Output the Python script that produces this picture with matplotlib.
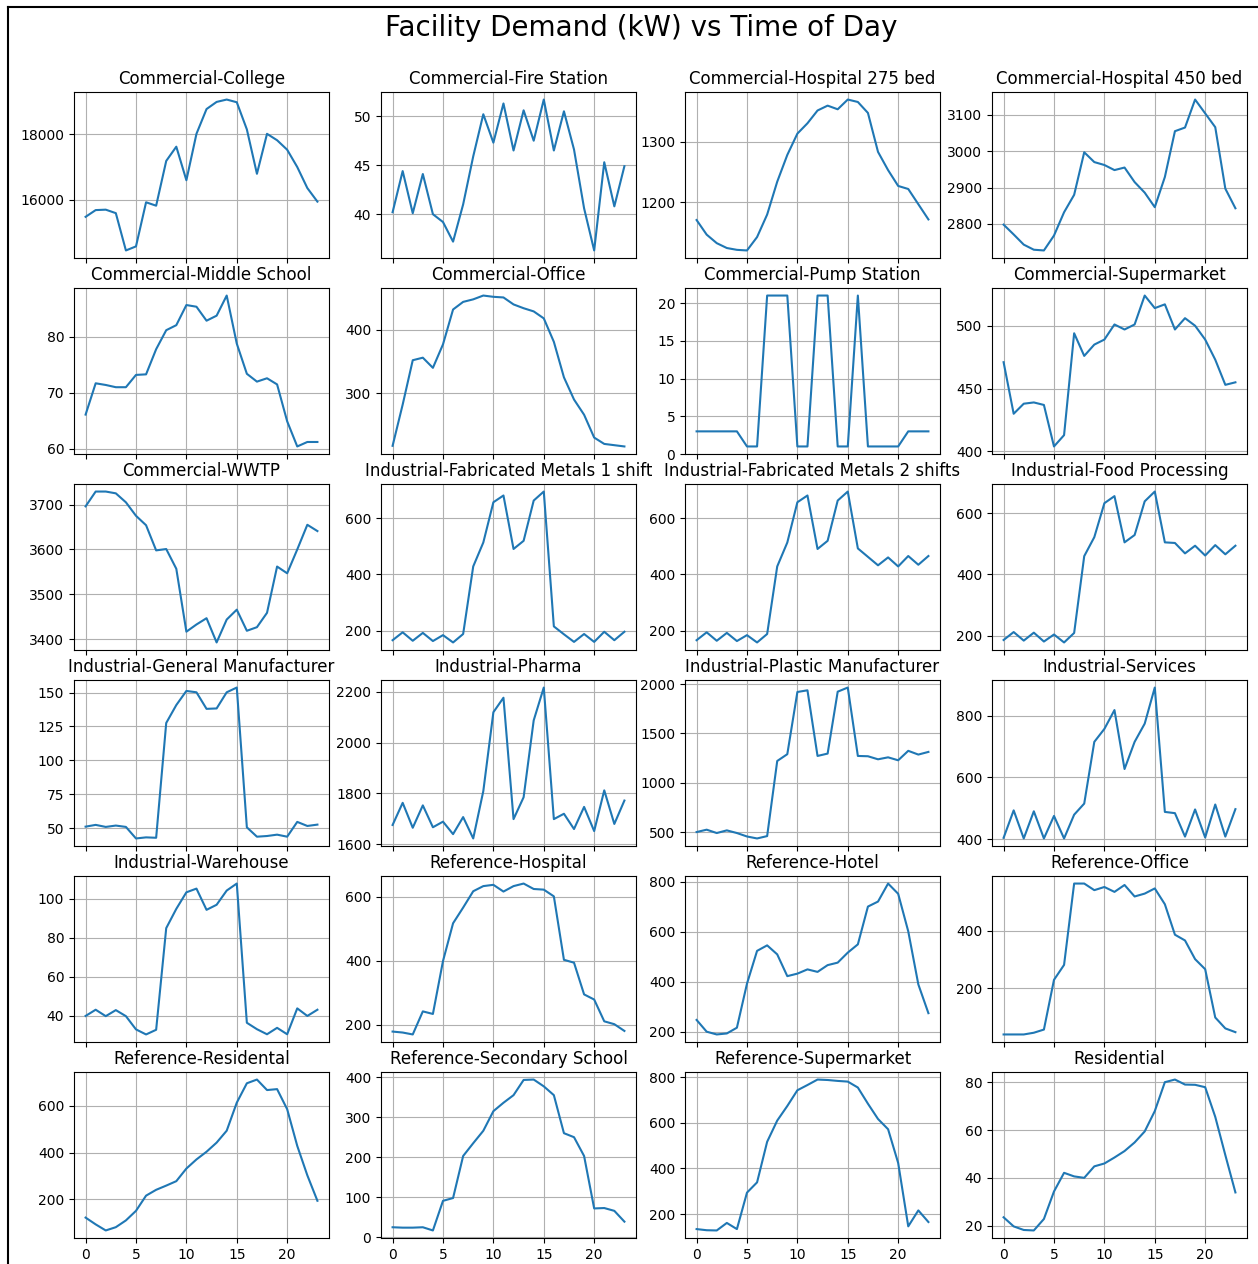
import matplotlib
matplotlib.use("Agg")
import matplotlib.pyplot as plt
from matplotlib.lines import Line2D

hours = list(range(24))

facilities = [
    "Commercial-College", "Commercial-Fire Station", "Commercial-Hospital 275 bed", "Commercial-Hospital 450 bed",
    "Commercial-Middle School", "Commercial-Office", "Commercial-Pump Station", "Commercial-Supermarket",
    "Commercial-WWTP", "Industrial-Fabricated Metals 1 shift", "Industrial-Fabricated Metals 2 shifts", "Industrial-Food Processing",
    "Industrial-General Manufacturer", "Industrial-Pharma", "Industrial-Plastic Manufacturer", "Industrial-Services",
    "Industrial-Warehouse", "Reference-Hospital", "Reference-Hotel", "Reference-Office",
    "Reference-Residental", "Reference-Secondary School", "Reference-Supermarket", "Residential",
]

college = [15470, 15677, 15690, 15583, 14437, 14562, 15917, 15812, 17187, 17625, 16594, 18020,
           18781, 19000, 19073, 18990, 18156, 16792, 18020, 17823, 17531, 17000, 16354, 15937]
fire_station = [40.2, 44.4, 40.1, 44.1, 40.0, 39.2, 37.2, 41.0, 45.9, 50.2, 47.3, 51.3,
                46.5, 50.6, 47.5, 51.7, 46.5, 50.5, 46.6, 40.6, 36.3, 45.3, 40.8, 44.9]
hospital_275 = [1171, 1147, 1133, 1125, 1122, 1121, 1143, 1180, 1234, 1278, 1313, 1330,
                1351, 1359, 1353, 1369, 1365, 1347, 1283, 1253, 1227, 1222, 1197, 1172]
hospital_450 = [2798, 2771, 2743, 2729, 2727, 2768, 2832, 2880, 2997, 2970, 2962, 2948,
                2955, 2915, 2886, 2846, 2929, 3055, 3065, 3142, 3104, 3066, 2897, 2843]
middle_school = [66.1, 71.7, 71.4, 71.0, 71.0, 73.2, 73.3, 77.8, 81.2, 82.1, 85.7, 85.4,
                 82.9, 83.8, 87.4, 78.8, 73.4, 72.0, 72.6, 71.5, 64.9, 60.4, 61.2, 61.2]
office = [217, 282, 352, 356, 340, 377, 432, 444, 448, 454, 452, 451,
          440, 434, 429, 418, 381, 325, 290, 266, 230, 220, 218, 216]
pump_station = [3, 3, 3, 3, 3, 1, 1, 21, 21, 21, 1, 1,
                21, 21, 1, 1, 21, 1, 1, 1, 1, 3, 3, 3]
supermarket = [471, 430, 438, 439, 437, 404, 413, 494, 476, 485, 489, 501,
               497, 501, 524, 514, 517, 497, 506, 500, 489, 473, 453, 455]
wwtp = [3696, 3729, 3729, 3725, 3705, 3675, 3654, 3598, 3601, 3557, 3417, 3433,
        3447, 3393, 3444, 3466, 3419, 3427, 3459, 3562, 3547, 3600, 3655, 3641]
fab_metals_1 = [166, 194, 164, 192, 163, 184, 158, 188, 428, 513, 656, 680,
                490, 519, 662, 694, 215, 187, 160, 188, 160, 196, 166, 196]
fab_metals_2 = [166, 194, 164, 192, 163, 184, 158, 188, 428, 513, 656, 680,
                490, 519, 662, 694, 492, 462, 432, 460, 428, 465, 434, 465]
food_processing = [186, 212, 184, 210, 181, 204, 178, 209, 460, 522, 633, 656,
                   505, 529, 639, 671, 505, 503, 469, 494, 462, 496, 466, 494]
general_mfg = [51.2, 52.5, 51.0, 52.0, 51.0, 42.5, 43.3, 43.0, 127.6, 140.8, 151.2, 150.2,
               138.0, 138.3, 150.2, 153.7, 50.7, 43.8, 44.3, 45.3, 43.8, 54.7, 51.7, 52.7]
pharma = [1676, 1763, 1665, 1753, 1667, 1689, 1640, 1707, 1623, 1809, 2119, 2176,
          1699, 1785, 2087, 2216, 1699, 1720, 1660, 1747, 1652, 1812, 1680, 1772]
plastic_mfg = [500, 524, 490, 517, 490, 455, 435, 459, 1221, 1290, 1921, 1938,
               1272, 1296, 1924, 1966, 1272, 1269, 1238, 1258, 1228, 1324, 1286, 1313]
services = [404, 493, 402, 490, 402, 475, 402, 479, 515, 715, 757, 818,
            627, 715, 774, 891, 488, 484, 408, 496, 405, 512, 408, 497]
warehouse = [39.8, 43.0, 39.7, 42.8, 39.7, 32.9, 30.3, 32.7, 84.9, 94.8, 103.3, 105.2,
             94.3, 96.9, 104.2, 107.8, 36.3, 33.0, 30.4, 33.7, 30.4, 43.7, 39.8, 43.0]
ref_hospital = [179, 176, 170, 242, 234, 399, 517, 566, 617, 633, 637, 616,
                633, 641, 624, 622, 601, 403, 394, 295, 279, 211, 202, 181]
ref_hotel = [247, 200, 189, 193, 216, 392, 523, 545, 509, 422, 432, 449,
             439, 466, 476, 516, 549, 700, 720, 792, 751, 601, 389, 274]
ref_office = [39, 39, 39, 45, 56, 229, 281, 564, 564, 541, 552, 535,
              559, 519, 529, 547, 492, 386, 366, 301, 266, 98, 60, 47]
ref_residental = [122, 93, 67, 81, 110, 151, 216, 241, 259, 278, 332, 371,
                  404, 443, 494, 614, 697, 713, 668, 672, 586, 429, 303, 194]
ref_secondary_school = [25, 24, 24, 25, 17, 91, 98, 203, 235, 266, 315, 336,
                        355, 393, 394, 377, 355, 260, 250, 203, 72, 73, 66, 39]
ref_supermarket = [134, 129, 128, 161, 134, 294, 339, 517, 610, 674, 743, 766,
                   790, 788, 784, 781, 755, 684, 617, 572, 424, 146, 216, 165]
residential = [23.5, 19.7, 18.2, 18.0, 22.8, 34.3, 42.1, 40.6, 40.0, 44.8, 46.0, 48.5,
               51.2, 54.8, 59.4, 67.9, 80.0, 81.1, 79.0, 78.9, 77.9, 65.5, 49.5, 33.9]

demand = [
    college, fire_station, hospital_275, hospital_450,
    middle_school, office, pump_station, supermarket,
    wwtp, fab_metals_1, fab_metals_2, food_processing,
    general_mfg, pharma, plastic_mfg, services,
    warehouse, ref_hospital, ref_hotel, ref_office,
    ref_residental, ref_secondary_school, ref_supermarket, residential,
]

W, H = 1258, 1264
fig = plt.figure(figsize=(W / 100, H / 100), dpi=100)

col_left = [74, 381, 685, 992]
row_top = [92, 288, 484, 680, 876, 1072]
ax_w, ax_h = 255, 166

first = None
for idx, (name, values) in enumerate(zip(facilities, demand)):
    r, c = divmod(idx, 4)
    rect = [col_left[c] / W, 1 - (row_top[r] + ax_h) / H, ax_w / W, ax_h / H]
    ax = fig.add_axes(rect, sharex=first)
    if first is None:
        first = ax
    ax.plot(hours, values, color="#1f77b4", linewidth=1.5)
    ax.set_title(name, fontsize=12)
    ax.grid(True)
    ax.set_xticks([0, 5, 10, 15, 20])
    if r < 5:
        ax.tick_params(axis="x", labelbottom=False)

fig.suptitle("Facility Demand (kW) vs Time of Day", fontsize=20,
             x=641 / W, y=1 - 28 / H, va="center")

# frame lines around the figure
fig.add_artist(Line2D([8 / W, 8 / W], [0, 1 - 7 / H], color="black", linewidth=1.5,
                      transform=fig.transFigure))
fig.add_artist(Line2D([8 / W, 1], [1 - 7 / H, 1 - 7 / H], color="black", linewidth=1.5,
                      transform=fig.transFigure))

fig.savefig("out.png", dpi=100)
